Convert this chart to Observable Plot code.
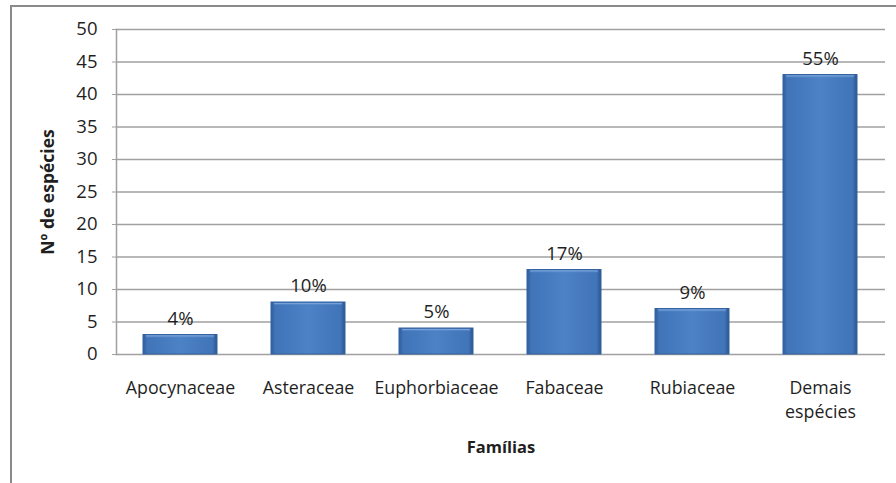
<!DOCTYPE html>
<html>
<head>
<meta charset="utf-8">
<script src="https://cdn.jsdelivr.net/npm/d3@7"></script>
<script src="https://cdn.jsdelivr.net/npm/@observablehq/plot@0.6"></script>
<style>
  html, body { margin: 0; padding: 0; background: #fff; }
  #wrap { position: relative; width: 896px; height: 483px; overflow: hidden; }
  #border { position: absolute; left: 10px; top: 5px; width: 900px; height: 500px;
            border-left: 2px solid #8a8a8a; border-top: 2px solid #8a8a8a; box-sizing: border-box; }
  #chart { position: absolute; left: 0; top: 0; }
</style>
</head>
<body>
<div id="wrap"><div id="border"></div><div id="chart"></div></div>
<script>
const familias = ["Apocynaceae", "Asteraceae", "Euphorbiaceae", "Fabaceae", "Rubiaceae", "Demais espécies"];
const especies = [3, 8, 4, 13, 7, 43];
const percentuais = ["4%", "10%", "5%", "17%", "9%", "55%"];
const yTicks = [0, 5, 10, 15, 20, 25, 30, 35, 40, 45, 50];

const data = familias.map((f, i) => ({familia: f, n: especies[i], pct: percentuais[i]}));
const font = "'Open Sans', sans-serif";
const ink = "#1f1f1f";

const chart = Plot.plot({
  width: 896,
  height: 483,
  marginLeft: 116,
  marginRight: 11,
  marginTop: 29,
  marginBottom: 129,
  style: {fontFamily: font, fontSize: "18px", color: ink, background: "transparent", overflow: "visible"},
  x: {domain: familias, paddingInner: 0.42, paddingOuter: 0.21},
  y: {domain: [0, 50], ticks: yTicks},
  marks: [
    Plot.gridY(yTicks, {stroke: "#a0a0a0", strokeOpacity: 1, strokeWidth: 1.5}),
    Plot.frame({anchor: "left", stroke: "#a0a0a0", strokeWidth: 1.5}),
    Plot.barY(data, {x: "familia", y: "n", fill: "url(#barGrad)", stroke: "#3563a0", strokeWidth: 1}),
    Plot.barY(data, {x: "familia", y1: "n", y2: d => d.n - 0.55, fill: "url(#topGrad)", insetLeft: 3, insetRight: 3, insetTop: 1}),
    Plot.text(data, {x: "familia", y: "n", text: "pct", dy: -16, fontSize: 18.5, fill: ink}),
    Plot.axisY(yTicks, {tickSize: 4, tickPadding: 15, label: null, fontSize: 18.5, stroke: "#a0a0a0", fill: ink}),
    Plot.axisX({tickSize: 0, tickPadding: 22, label: null, fontSize: 17.8, lineHeight: 1.35, fill: ink,
                tickFormat: d => d === "Demais espécies" ? "Demais\nespécies" : d}),
    Plot.text(["Nº de espécies"], {frameAnchor: "left", textAnchor: "middle", dx: -68, rotate: -90, fontWeight: "bold", fontSize: 17.5, fill: ink}),
    Plot.text(["Famílias"], {frameAnchor: "bottom", dy: 98, fontWeight: "bold", fontSize: 16.5, fill: ink})
  ]
});

const svgNS = "http://www.w3.org/2000/svg";
const defs = document.createElementNS(svgNS, "defs");
defs.innerHTML = `
  <linearGradient id="barGrad" x1="0" x2="1" y1="0" y2="0">
    <stop offset="0" stop-color="#2f5d9c"/>
    <stop offset="0.06" stop-color="#4174b8"/>
    <stop offset="0.5" stop-color="#4c82c6"/>
    <stop offset="0.94" stop-color="#4174b8"/>
    <stop offset="1" stop-color="#2a5590"/>
  </linearGradient>
  <linearGradient id="topGrad" x1="0" x2="0" y1="0" y2="1">
    <stop offset="0" stop-color="#8fb4e3"/>
    <stop offset="1" stop-color="#4c82c6" stop-opacity="0"/>
  </linearGradient>`;
chart.insertBefore(defs, chart.firstChild);
document.getElementById("chart").appendChild(chart);
</script>
</body>
</html>
